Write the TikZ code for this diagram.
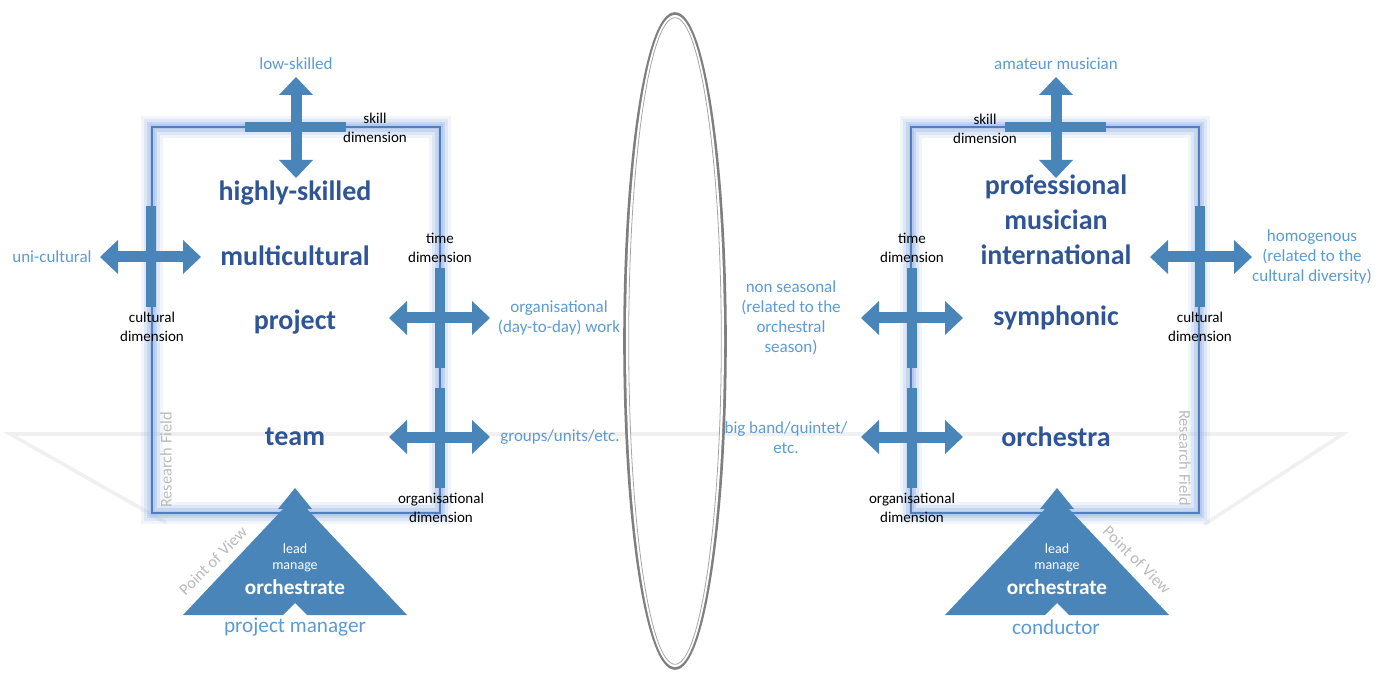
\documentclass[tikz,border=0pt]{standalone}
\usepackage{fontspec}
\setmainfont{Carlito}
\usetikzlibrary{positioning,arrows.meta}

\definecolor{arrowblue}{HTML}{4A85B9}
\definecolor{facetblue}{HTML}{2F5597}
\definecolor{poleblue}{HTML}{5B9BD5}
\definecolor{frameblue}{HTML}{4F7FBF}
\definecolor{glowblue}{HTML}{A3BDE6}
\definecolor{lensgrey}{HTML}{7F7F7F}

\tikzset{
  facet/.style={text=facetblue, font=\fontsize{14}{17.5}\selectfont\bfseries, align=center, inner sep=0pt},
  pole/.style={text=poleblue, font=\fontsize{8.5}{10}\selectfont, align=center, inner sep=0pt},
  dimlabel/.style={text=black, font=\fontsize{7.5}{9.2}\selectfont, align=center, inner sep=0pt},
  watermark/.style={text=black!27, font=\fontsize{8.2}{10}\selectfont, inner sep=0pt},
  povtext/.style={text=white, font=\fontsize{7}{9}\selectfont, inner sep=0pt},
  dimbar/.style={draw=arrowblue, line width=5pt},
  dimarrow/.style={draw=arrowblue, line width=5.5pt,
    {Triangle[width=17pt,length=9pt,line width=0pt]}-{Triangle[width=17pt,length=9pt,line width=0pt]}},
  frame/.style={draw=frameblue, line width=0.7pt},
  plane/.style={draw=black!6, line width=1.8pt, line cap=round},
}

\begin{document}
\begin{tikzpicture}[x=0.5pt, y=-0.5pt]
\useasboundingbox (0,0) rectangle (1386,673);

% ground plane (faint)
\coordinate (plane-w) at (10,434);
\coordinate (plane-e) at (1343,434);
\coordinate (plane-sw) at (165,522);
\coordinate (plane-se) at (1205,524);
\draw[plane] (plane-sw) -- (plane-w) -- (plane-e) -- (plane-se);

% lens
\coordinate (lens) at (675,341);
\draw[lensgrey, line width=1.8pt] (lens) ellipse [x radius=50, y radius=327];
\draw[white, line width=1pt] (lens) ellipse [x radius=48, y radius=325];
\draw[black!35, line width=0.4pt] (lens) ellipse [x radius=46.3, y radius=323.3];

% research fields
\coordinate (boxL-nw) at (152,127);
\coordinate (boxL-se) at (440,513);
\coordinate (boxR-nw) at (911,127);
\coordinate (boxR-se) at (1199,513);
\foreach \w/\o in {11/0.15, 8/0.25, 5/0.4, 2.5/0.5} {
  \draw[glowblue, line width=\w pt, opacity=\o] (boxL-nw) rectangle (boxL-se);
  \draw[glowblue, line width=\w pt, opacity=\o] (boxR-nw) rectangle (boxR-se);
}
\draw[frame] (boxL-nw) rectangle (boxL-se);
\draw[frame] (boxR-nw) rectangle (boxR-se);

% left: skill dimension
\coordinate (skillL-w) at (245,127);
\coordinate (skillL-e) at (346,127);
\coordinate (skillL-n) at (296,77);
\coordinate (skillL-s) at (296,178);
\draw[dimbar] (skillL-w) -- (skillL-e);
\draw[dimarrow] (skillL-n) -- (skillL-s);

% left: cultural dimension
\coordinate (cultL-n) at (151,206);
\coordinate (cultL-s) at (151,307);
\coordinate (cultL-w) at (100,257);
\coordinate (cultL-e) at (201,257);
\draw[dimbar] (cultL-n) -- (cultL-s);
\draw[dimarrow] (cultL-w) -- (cultL-e);

% left: time dimension
\coordinate (timeL-n) at (440,268);
\coordinate (timeL-s) at (440,368);
\coordinate (timeL-w) at (389,318);
\coordinate (timeL-e) at (490,318);
\draw[dimbar] (timeL-n) -- (timeL-s);
\draw[dimarrow] (timeL-w) -- (timeL-e);

% left: organisational dimension
\coordinate (orgL-n) at (440,388);
\coordinate (orgL-s) at (440,488);
\coordinate (orgL-w) at (389,437);
\coordinate (orgL-e) at (490,437);
\draw[dimbar] (orgL-n) -- (orgL-s);
\draw[dimarrow] (orgL-w) -- (orgL-e);

% right: skill dimension
\coordinate (skillR-w) at (1005,127);
\coordinate (skillR-e) at (1106,127);
\coordinate (skillR-n) at (1056,77);
\coordinate (skillR-s) at (1056,178);
\draw[dimbar] (skillR-w) -- (skillR-e);
\draw[dimarrow] (skillR-n) -- (skillR-s);

% right: cultural dimension
\coordinate (cultR-n) at (1200,206);
\coordinate (cultR-s) at (1200,307);
\coordinate (cultR-w) at (1150,257);
\coordinate (cultR-e) at (1252,257);
\draw[dimbar] (cultR-n) -- (cultR-s);
\draw[dimarrow] (cultR-w) -- (cultR-e);

% right: time dimension
\coordinate (timeR-n) at (912,268);
\coordinate (timeR-s) at (912,368);
\coordinate (timeR-w) at (861,318);
\coordinate (timeR-e) at (963,318);
\draw[dimbar] (timeR-n) -- (timeR-s);
\draw[dimarrow] (timeR-w) -- (timeR-e);

% right: organisational dimension
\coordinate (orgR-n) at (912,388);
\coordinate (orgR-s) at (912,488);
\coordinate (orgR-w) at (861,437);
\coordinate (orgR-e) at (963,437);
\draw[dimbar] (orgR-n) -- (orgR-s);
\draw[dimarrow] (orgR-w) -- (orgR-e);

% points of view
\fill[arrowblue] (295,488) -- (312,509) -- (307,509) -- (407,615) -- (307,615)
  -- (295,603) -- (283,615) -- (183,615) -- (283,509) -- (278,509) -- cycle;
\fill[arrowblue] (1057,488) -- (1074,509) -- (1069,509) -- (1169,615) -- (1069,615)
  -- (1057,603) -- (1045,615) -- (945,615) -- (1045,509) -- (1040,509) -- cycle;

% left texts
\node[pole, above=3.5pt of skillL-n] (lowskill) {low-skilled};
\node[dimlabel] (skilldimL) at (375,128) {skill\\dimension};
\node[pole] (unicult) at (52,257) {uni-cultural};
\node[dimlabel] (cultdimL) at (152,327) {cultural\\dimension};
\node[dimlabel] (timedimL) at (440,248) {time\\dimension};
\node[dimlabel] (orgdimL) at (441,508) {organisational\\dimension};
\node[pole] (daytoday) at (559,318) {organisational\\(day-to-day) work};
\node[pole] (groups) at (560,437) {groups/units/etc.};
\node[facet] (highly) at (295,193) {highly-skilled};
\node[facet] (multi) at (295,256) {multicultural};
\node[facet] (project) at (295,322) {project};
\node[facet] (team) at (295,437) {team};
\node[watermark, rotate=90] (fieldL) at (166,460) {Research Field};
\node[watermark, rotate=45] (viewL) at (213,561) {Point of View};
\node[povtext] (leadL) at (295,549) {lead};
\node[povtext] (manageL) at (295,567) {manage};
\node[povtext, font=\fontsize{10.6}{12}\selectfont\bfseries] (orchL) at (295,587) {orchestrate};
\node[pole, font=\fontsize{10.6}{12}\selectfont] (pm) at (295,627) {project manager};

% right texts
\node[pole, above=3.5pt of skillR-n] (amateur) {amateur musician};
\node[dimlabel] (skilldimR) at (985,129) {skill\\dimension};
\node[pole] (homog) at (1312,257) {homogenous\\(related to the\\cultural diversity)};
\node[dimlabel] (cultdimR) at (1200,327) {cultural\\dimension};
\node[dimlabel] (timedimR) at (912,248) {time\\dimension};
\node[dimlabel] (orgdimR) at (912,508) {organisational\\dimension};
\node[pole] (season) at (791,318) {non seasonal\\(related to the\\orchestral\\season)};
\node[pole] (bigband) at (786,438) {big band/quintet/\\etc.};
\node[facet] (prof) at (1056,220) {professional\\musician\\international};
\node[facet] (symph) at (1056,318) {symphonic};
\node[facet] (orch) at (1056,437) {orchestra};
\node[watermark, rotate=-90] (fieldR) at (1185,458) {Research Field};
\node[watermark, rotate=-45] (viewR) at (1137,560) {Point of View};
\node[povtext] (leadR) at (1057,549) {lead};
\node[povtext] (manageR) at (1057,567) {manage};
\node[povtext, font=\fontsize{10.6}{12}\selectfont\bfseries] (orchR) at (1057,587) {orchestrate};
\node[pole, font=\fontsize{10.6}{12}\selectfont] (cond) at (1056,627) {conductor};
\end{tikzpicture}
\end{document}
